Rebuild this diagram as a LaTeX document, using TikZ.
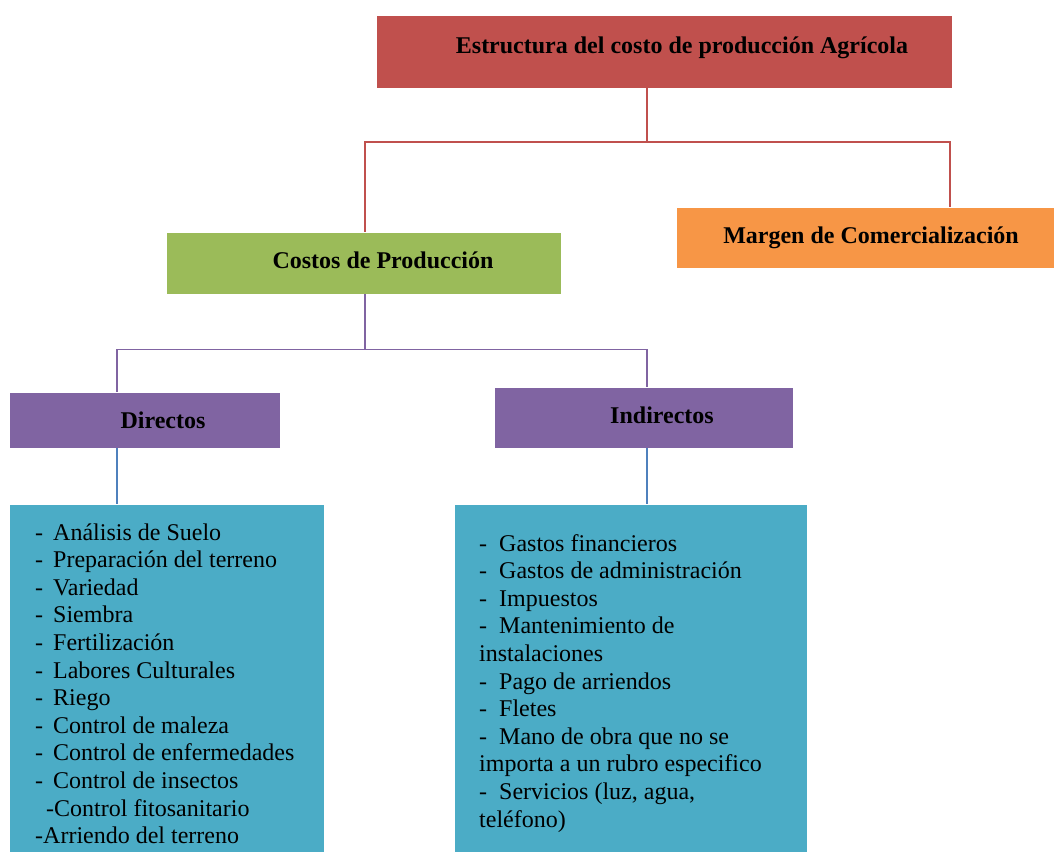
\documentclass[tikz,border=0pt]{standalone}
\usepackage{fontspec}
\setmainfont{Liberation Serif}
\definecolor{cred}{HTML}{C0504D}
\definecolor{cgreen}{HTML}{9BBB59}
\definecolor{corange}{HTML}{F79646}
\definecolor{cpurple}{HTML}{8064A2}
\definecolor{cteal}{HTML}{4BACC6}
\definecolor{cblue}{HTML}{4F81BD}
\begin{document}
\begin{tikzpicture}[x=1pt,y=-1pt,
  box/.style={rectangle, inner sep=0pt, draw=white, line width=0.6pt},
  hd/.style={font=\fontsize{24}{28}\selectfont\bfseries, inner sep=0pt, anchor=base},
  lst/.style={font=\fontsize{24}{27.6}\selectfont, inner sep=0pt, anchor=base west},
  conn/.style={line width=1.5pt}]
\useasboundingbox (0,0) rectangle (1054,851);
% boxes
\node[box, fill=cred, minimum width=576pt, minimum height=73pt] (title) at (664,51.5) {};
\node[box, fill=cgreen, minimum width=395pt, minimum height=62pt] (costos) at (364,263) {};
\node[box, fill=corange, minimum width=378pt, minimum height=61pt] (margen) at (865,237.5) {};
\node[box, fill=cpurple, minimum width=271pt, minimum height=56pt] (directos) at (144.5,420) {};
\node[box, fill=cpurple, minimum width=299pt, minimum height=61pt] (indirectos) at (643.5,417.5) {};
\node[box, fill=cteal, minimum width=315pt, minimum height=348pt] (listL) at (166.5,678) {};
\node[box, fill=cteal, minimum width=353pt, minimum height=348pt] (listR) at (630.5,678) {};
% headings
\node[hd] (titletext) at (682,54) {Estructura del costo de producción Agrícola};
\node[hd] (costostext) at (383,268) {Costos de Producción};
\node[hd] (margentext) at (871,243) {Margen de Comercialización};
\node[hd] (directostext) at (163,428) {Directos};
\node[hd] (indirectostext) at (662,423) {Indirectos};
% lists
\node[lst] (itemsL) at (35,540) {\begin{tabular}[t]{@{}l@{}}
\makebox[18pt][l]{-}Análisis de Suelo\\
\makebox[18pt][l]{-}Preparación del terreno\\
\makebox[18pt][l]{-}Variedad\\
\makebox[18pt][l]{-}Siembra\\
\makebox[18pt][l]{-}Fertilización\\
\makebox[18pt][l]{-}Labores Culturales\\
\makebox[18pt][l]{-}Riego\\
\makebox[18pt][l]{-}Control de maleza\\
\makebox[18pt][l]{-}Control de enfermedades\\
\makebox[18pt][l]{-}Control de insectos\\
\hspace*{11pt}-Control fitosanitario\\
-Arriendo del terreno
\end{tabular}};
\node[lst] (itemsR) at (479,551) {\begin{tabular}[t]{@{}l@{}}
\makebox[20pt][l]{-}Gastos financieros\\
\makebox[20pt][l]{-}Gastos de administración\\
\makebox[20pt][l]{-}Impuestos\\
\makebox[20pt][l]{-}Mantenimiento de\\
instalaciones\\
\makebox[20pt][l]{-}Pago de arriendos\\
\makebox[20pt][l]{-}Fletes\\
\makebox[20pt][l]{-}Mano de obra que no se\\
importa a un rubro especifico\\
\makebox[20pt][l]{-}Servicios (luz, agua,\\
teléfono)
\end{tabular}};
% connector points
\coordinate (jr) at (647,142);
\coordinate (mr) at (950,0);
\coordinate (jp) at (365,349.5);
\coordinate (dl) at (117,0);
\coordinate (dr) at (647,0);
% connectors
\draw[conn, cred] (title.south -| jr) -- (jr);
\draw[conn, cred] (costos.north -| jp) |- (jr) -| (mr |- margen.north);
\draw[conn, cpurple] (costos.south -| jp) -- (jp);
\draw[conn, cpurple] (dl |- directos.north) |- (jp) -| (dr |- indirectos.north);
\draw[conn, cblue] (dl |- directos.south) -- (dl |- listL.north);
\draw[conn, cblue] (dr |- indirectos.south) -- (dr |- listR.north);
\end{tikzpicture}
\end{document}
